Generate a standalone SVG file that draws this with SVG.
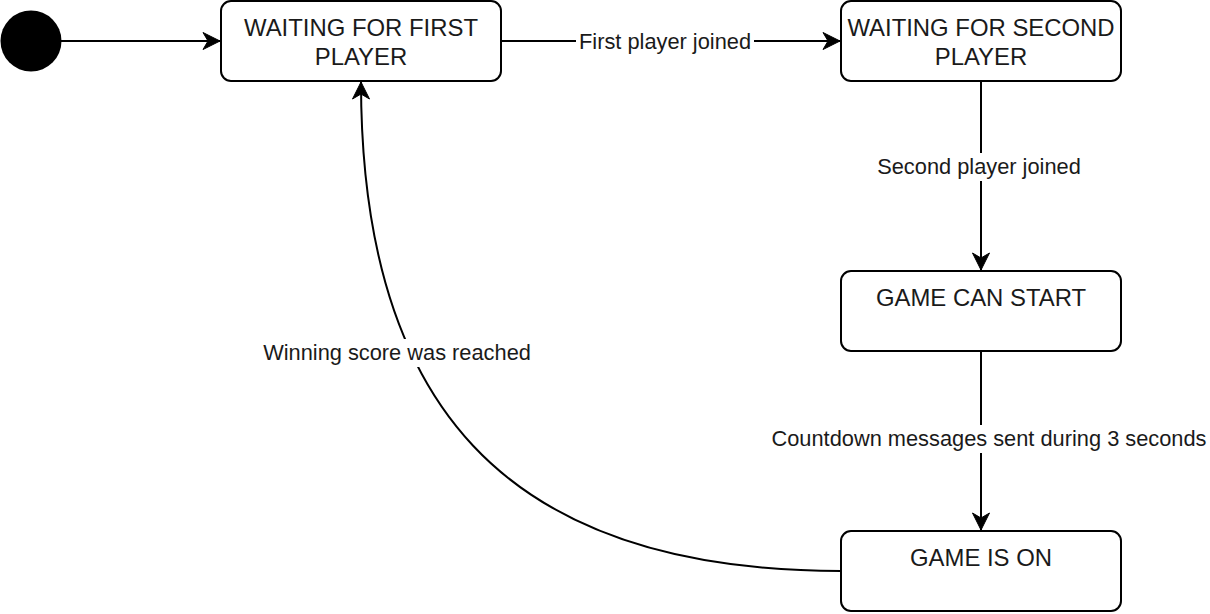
<svg xmlns="http://www.w3.org/2000/svg" width="1210" height="614" viewBox="0 0 1210 614">
<style>
.node rect{fill:#fff;stroke:#000;stroke-width:2}
.nt{font-family:"Liberation Sans",Arial,sans-serif;font-size:23.9px;fill:#1a1a1a;text-anchor:middle}
.edge{fill:none;stroke:#000;stroke-width:2}
.lbl{font-family:"Liberation Sans",Arial,sans-serif;font-size:21.8px;fill:#1a1a1a;text-anchor:middle}
.bg{fill:#fff}
</style>
<defs>
<marker id="arr" markerUnits="userSpaceOnUse" markerWidth="20" markerHeight="20" viewBox="-18 -10 20 20" refX="0" refY="0" orient="auto">
<path d="M0,0 L-17,-8.5 L-12,0 L-17,8.5 Z" fill="#000" stroke="#000" stroke-width="1" stroke-linejoin="miter"/>
</marker>
</defs>
<g id="start"><circle cx="31" cy="41" r="30.5" fill="#000"/></g>
<g id="edges">
<path class="edge" d="M61,41 H220" marker-end="url(#arr)"/>
<path class="edge" d="M501,41 H840" marker-end="url(#arr)"/>
<path class="edge" d="M981,81 V270" marker-end="url(#arr)"/>
<path class="edge" d="M981,351 V530" marker-end="url(#arr)"/>
<path class="edge" d="M841,571 C500,571 361,400 361,82" marker-end="url(#arr)"/>
<g id="edge-labels">
<rect class="bg" x="576" y="28" width="178" height="26"/>
<text class="lbl" x="665" y="49">First player joined</text>
<rect class="bg" x="873" y="153" width="212" height="28"/>
<text class="lbl" x="979" y="174">Second player joined</text>
<rect class="bg" x="766" y="425" width="446" height="28"/>
<text class="lbl" x="989" y="446">Countdown messages sent during 3 seconds</text>
<rect class="bg" x="259" y="339" width="276" height="28"/>
<text class="lbl" x="397" y="360">Winning score was reached</text>
</g>
</g>
<g id="waiting-first" class="node"><rect x="221" y="1" width="280" height="80" rx="10"/><text class="nt" x="361" y="36">WAITING FOR FIRST</text><text class="nt" x="361" y="65">PLAYER</text></g>
<g id="waiting-second" class="node"><rect x="841" y="1" width="280" height="80" rx="10"/><text class="nt" x="981" y="36">WAITING FOR SECOND</text><text class="nt" x="981" y="65">PLAYER</text></g>
<g id="game-can-start" class="node"><rect x="841" y="271" width="280" height="80" rx="10"/><text class="nt" x="981" y="306">GAME CAN START</text></g>
<g id="game-is-on" class="node"><rect x="841" y="531" width="280" height="80" rx="10"/><text class="nt" x="981" y="566">GAME IS ON</text></g>
</svg>
